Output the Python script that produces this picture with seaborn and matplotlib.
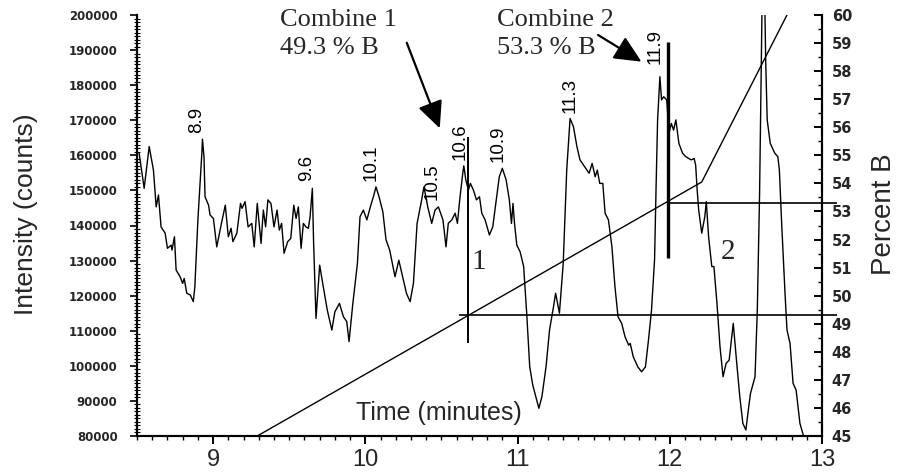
import matplotlib
matplotlib.use("Agg")
import matplotlib.pyplot as plt
import seaborn as sns
import pandas as pd
import numpy as np
from matplotlib.ticker import MultipleLocator

# ---------------- data ----------------
time_min = [8.514, 8.547, 8.580, 8.608, 8.626, 8.641, 8.658, 8.685, 8.700, 8.724,
            8.730, 8.746, 8.757, 8.783, 8.800, 8.810, 8.827, 8.850, 8.870, 8.880,
            8.900, 8.926, 8.930, 8.940, 8.947, 8.970, 8.980, 9.002, 9.024, 9.050,
            9.080, 9.100, 9.118, 9.130, 9.156, 9.180, 9.190, 9.210, 9.230, 9.254,
            9.270, 9.290, 9.315, 9.330, 9.345, 9.360, 9.380, 9.400, 9.420, 9.435,
            9.450, 9.466, 9.490, 9.510, 9.530, 9.545, 9.560, 9.578, 9.593, 9.610,
            9.626, 9.637, 9.652, 9.660, 9.676, 9.700, 9.720, 9.750, 9.780, 9.800,
            9.830, 9.856, 9.878, 9.893, 9.918, 9.948, 9.965, 9.987, 10.010, 10.036,
            10.053, 10.070, 10.090, 10.115, 10.136, 10.160, 10.195, 10.220, 10.245, 10.270,
            10.294, 10.316, 10.340, 10.370, 10.385, 10.410, 10.436, 10.458, 10.480, 10.510,
            10.530, 10.545, 10.568, 10.590, 10.605, 10.620, 10.640, 10.647, 10.660, 10.677,
            10.690, 10.710, 10.730, 10.750, 10.765, 10.787, 10.815, 10.837, 10.860, 10.880,
            10.900, 10.925, 10.946, 10.960, 10.970, 10.980, 10.995, 11.017, 11.040, 11.060,
            11.080, 11.100, 11.126, 11.140, 11.160, 11.187, 11.210, 11.236, 11.250, 11.275,
            11.300, 11.323, 11.345, 11.367, 11.390, 11.410, 11.440, 11.470, 11.490, 11.510,
            11.524, 11.540, 11.560, 11.575, 11.597, 11.620, 11.640, 11.660, 11.684, 11.706,
            11.730, 11.740, 11.760, 11.790, 11.815, 11.840, 11.860, 11.880, 11.900, 11.910,
            11.920, 11.935, 11.946, 11.960, 11.980, 11.995, 12.010, 12.025, 12.040, 12.060,
            12.084, 12.106, 12.140, 12.160, 12.170, 12.180, 12.190, 12.210, 12.230, 12.240,
            12.255, 12.276, 12.290, 12.310, 12.330, 12.350, 12.370, 12.390, 12.417, 12.440,
            12.460, 12.480, 12.500, 12.516, 12.530, 12.560, 12.575, 12.590, 12.600, 12.610,
            12.620, 12.630, 12.640, 12.660, 12.690, 12.710, 12.720, 12.735, 12.757, 12.770,
            12.790, 12.810, 12.830, 12.855, 12.880]
intensity = [160600, 150600, 162500, 155800, 145300, 148700, 139600, 137800, 133500, 134400,
             133000, 136800, 127300, 125400, 123500, 124900, 120700, 120200, 118300, 122500,
             141600, 160600, 164600, 159600, 148200, 145800, 143000, 142000, 133900, 139600,
             145800, 136800, 139200, 135400, 137800, 146300, 144900, 146800, 139600, 140600,
             133900, 146300, 134900, 144400, 139600, 147300, 146300, 139600, 144400, 138700,
             140600, 132100, 135400, 136300, 145800, 142000, 145300, 133500, 140600, 139600,
             139200, 142500, 150600, 135400, 113500, 128700, 123500, 115900, 110200, 115400,
             117800, 114000, 112600, 106900, 117800, 129200, 142500, 144400, 141600, 145800,
             148200, 151000, 148200, 143900, 135900, 133000, 125400, 130100, 125400, 120700,
             118300, 123500, 140600, 147300, 151000, 145300, 140600, 144400, 145300, 141600,
             133900, 140600, 141600, 143500, 140600, 147300, 154900, 157000, 153000, 150100,
             152000, 150100, 147300, 148200, 143500, 141600, 137300, 139600, 147300, 153900,
             156300, 153000, 147300, 140600, 146300, 140600, 134400, 132500, 128300, 115000,
             99700, 94500, 90200, 87900, 91200, 99700, 110200, 116800, 120700, 115000,
             129200, 155800, 170500, 168200, 162500, 158700, 156800, 154900, 157700, 153900,
             155800, 152000, 152000, 143500, 141600, 133900, 122500, 114000, 112100, 108300,
             105900, 106400, 102600, 99700, 98300, 99700, 107300, 115900, 130200, 151000,
             170100, 182400, 175800, 176700, 175800, 166300, 169100, 167200, 170100, 163400,
             160600, 159600, 158700, 159100, 157200, 150100, 144400, 137800, 142500, 146800,
             136800, 128300, 128300, 117800, 105400, 96900, 100700, 101600, 112100, 100700,
             91200, 83600, 81700, 87400, 92100, 96900, 115900, 149200, 182400, 215000,
             215000, 187200, 170100, 163400, 160600, 159600, 155800, 140600, 120700, 110200,
             106400, 95000, 93100, 83600, 79800]

grad_time = [9.29, 12.21, 12.77]
grad_pct = [45.0, 54.05, 60.0]

combine_names = ["Combine 1", "Combine 2"]
combine_pct = [49.3, 53.3]
combine_time = [10.677, 11.99]

peak_labels = ["8.9", "9.6", "10.1", "10.5", "10.6", "10.9", "11.3", "11.9"]
fraction_labels = ["1", "2"]

x_ticks = [9, 10, 11, 12, 13]
left_ticks = list(range(80000, 200001, 10000))
right_ticks = list(range(45, 61))

# ---------------- style ----------------
sns.set_theme(style="ticks")
plt.rcParams['font.family'] = ['Liberation Sans', 'DejaVu Sans']

W, H = 897, 476
fig = plt.figure(figsize=(W / 100, H / 100), dpi=100)
ax = fig.add_axes([137 / W, 40 / H, (822 - 137) / W, (436 - 15) / H])

df = pd.DataFrame({"t": time_min, "I": intensity})
sns.lineplot(data=df, x="t", y="I", ax=ax, color="black", lw=1.0,
             sort=False, estimator=None)
ax.set_xlim(8.5, 13.0)
ax.set_ylim(80000, 200000)
ax.set_xlabel("")
ax.set_ylabel("Intensity (counts)", fontsize=19)
ax.yaxis.set_label_coords(-0.1445, 0.527)

ax2 = ax.twinx()
sns.lineplot(x=grad_time, y=grad_pct, ax=ax2, color="black", lw=1.0)
ax2.set_ylim(45, 60)
ax2.set_xlim(8.5, 13.0)
ax2.set_ylabel("Percent B", fontsize=20, rotation=90)
ax2.yaxis.set_label_coords(1.0715, 0.527)

# ticks
ax.set_xticks(x_ticks)
ax.set_xticklabels([str(v) for v in x_ticks])
ax.xaxis.set_minor_locator(MultipleLocator(0.1))
ax.set_yticks(left_ticks)
ax.set_yticklabels([str(v) for v in left_ticks])
ax.yaxis.set_minor_locator(MultipleLocator(1000))
ax.tick_params(axis="x", which="major", direction="out", length=6, width=1.4,
               labelsize=17, pad=3, color="black")
ax.tick_params(axis="x", which="minor", direction="out", length=3, width=1.0, color="black")
ax.tick_params(axis="y", which="major", direction="out", length=5, width=1.2,
               labelsize=8.5, pad=9, color="black")
ax.tick_params(axis="y", which="minor", direction="inout", length=4, width=0.8, color="black")
for lab in ax.get_yticklabels():
    lab.set_fontweight("bold")
    lab.set_family("DejaVu Sans")

ax2.set_yticks(right_ticks)
ax2.set_yticklabels([str(v) for v in right_ticks])
ax2.yaxis.set_minor_locator(MultipleLocator(0.5))
ax2.tick_params(axis="y", which="major", direction="in", length=6, width=1.4,
                labelsize=10.5, pad=7, color="black")
ax2.tick_params(axis="y", which="minor", direction="in", length=3, width=1.0, color="black")
for lab in ax2.get_yticklabels():
    lab.set_fontweight("bold")
    lab.set_family("DejaVu Sans")

for a in (ax, ax2):
    a.spines["top"].set_visible(False)
    for s in ("left", "right", "bottom"):
        a.spines[s].set_linewidth(1.5)
        a.spines[s].set_color("black")

# combine markers: horizontal %B lines and vertical cut lines
ax2.hlines(combine_pct[0], combine_time[0] - 0.06, 13.1, color="black", lw=1.2, clip_on=False)
ax2.hlines(combine_pct[1], combine_time[1], 13.1, color="black", lw=1.2, clip_on=False)
ax.vlines(combine_time[0], 106400, 165300, color="black", lw=1.4)
ax.vlines(combine_time[1], 130600, 192400, color="black", lw=2.4)

# peak labels
label_t = [8.893, 9.615, 10.036, 10.436, 10.622, 10.874, 11.345, 11.903]
label_y = [170070, 156380, 157800, 152390, 163790, 163220, 177190, 190880]
for txt, tx, ty in zip(peak_labels, label_t, label_y):
    ax.text(tx, ty, txt, rotation=90, ha="center", va="center", fontsize=13.5,
            color="black")

# combine annotations
serif = ["Liberation Serif", "DejaVu Serif"]
ax.text(9.44, 201700, f"{combine_names[0]}\n{combine_pct[0]} % B", ha="left", va="top",
        fontsize=19, family=serif, linespacing=1.35, clip_on=False)
ax.text(10.865, 201700, f"{combine_names[1]}\n{combine_pct[1]} % B", ha="left", va="top",
        fontsize=19, family=serif, linespacing=1.35, clip_on=False)
arrow_kw = dict(arrowstyle="-|>,head_length=0.75,head_width=0.35", color="black", lw=1.6,
                mutation_scale=22, shrinkA=0, shrinkB=0)
ax.annotate("", xy=(10.489, 167700), xytext=(10.272, 192100), arrowprops=arrow_kw)
ax.annotate("", xy=(11.814, 186700), xytext=(11.529, 194300), arrowprops=arrow_kw)

# fraction numbers
ax.text(10.743, 129670, fraction_labels[0], ha="center", va="center", fontsize=21, family=serif)
ax.text(12.385, 132520, fraction_labels[1], ha="center", va="center", fontsize=21, family=serif)

# x axis title inside the plot
ax.text(10.484, 86530, "Time (minutes)", ha="center", va="center", fontsize=18)

fig.savefig("out.png", dpi=100, facecolor="white")
